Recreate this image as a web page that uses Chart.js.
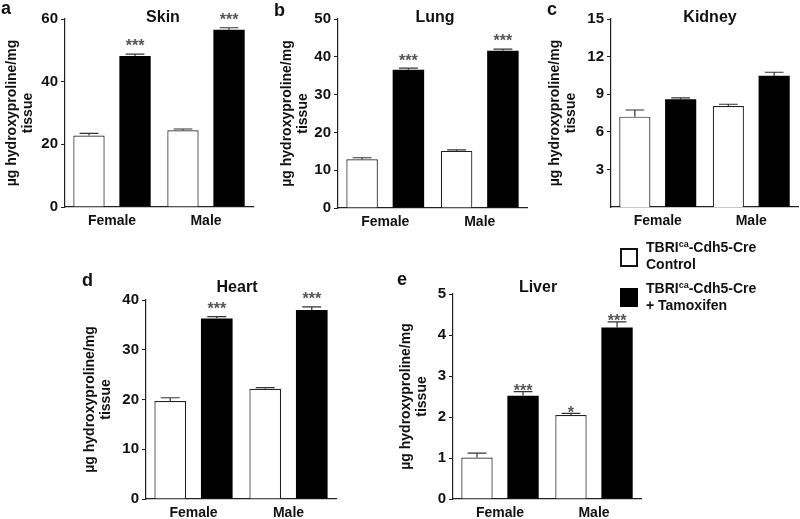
<!DOCTYPE html>
<html>
<head>
<meta charset="utf-8">
<script src="https://cdn.jsdelivr.net/npm/chart.js@4.4.1/dist/chart.umd.min.js"></script>
<style>
  body { margin: 0; background: #fff; font-family: "Liberation Sans", Arial, sans-serif; }
  #page { position: relative; width: 800px; height: 519px; overflow: hidden; background: #fff; }
  canvas { position: absolute; }
  .letter { position: absolute; font-weight: bold; font-size: 18px; line-height: 18px; color: #111; }
  .legend-box { position: absolute; width: 18px; height: 19px; box-sizing: border-box; border: 2px solid #111; }
  .legend-text { position: absolute; font-weight: bold; font-size: 14px; line-height: 17px; color: #111; white-space: nowrap; }
  .legend-text sup { font-size: 9px; line-height: 0; vertical-align: 5px; }
</style>
</head>
<body>
<div id="page">
  <canvas id="skin-chart"></canvas>
  <canvas id="lung-chart"></canvas>
  <canvas id="kidney-chart"></canvas>
  <canvas id="heart-chart"></canvas>
  <canvas id="liver-chart"></canvas>

  <div class="letter" style="left:1px; top:-1px;">a</div>
  <div class="letter" style="left:274px; top:1px;">b</div>
  <div class="letter" style="left:547px; top:0px;">c</div>
  <div class="letter" style="left:82px; top:271px;">d</div>
  <div class="letter" style="left:397px; top:270px;">e</div>

  <!-- legend -->
  <div class="legend-box" style="left:620px; top:248px; background:#fff;"></div>
  <div class="legend-text" style="left:646px; top:239px;">TBRI<sup>ca</sup>-Cdh5-Cre<br>Control</div>
  <div class="legend-box" style="left:620px; top:288px; background:#000; border-color:#000;"></div>
  <div class="legend-text" style="left:646px; top:280px;">TBRI<sup>ca</sup>-Cdh5-Cre<br>+ Tamoxifen</div>
</div>
<script>
//Shared labels
const groups = ['Female', 'Male'];
const controlLabel = 'TBRIca-Cdh5-Cre Control';
const tamoxLabel = 'TBRIca-Cdh5-Cre + Tamoxifen';
const yTitle = ['µg hydroxyproline/mg', 'tissue'];
const fontFamily = '"Liberation Sans", Arial, sans-serif';

//Skin
const skinTicks = [0, 20, 40, 60];
const skinControl = [22.8, 24.5];
const skinControlErr = [0.7, 0.4];
const skinTamox = [48.2, 56.6];
const skinTamoxErr = [0.6, 0.6];
const skinControlStars = ['', ''];
const skinTamoxStars = ['***', '***'];

//Lung
const lungTicks = [0, 10, 20, 30, 40, 50];
const lungControl = [12.9, 15.1];
const lungControlErr = [0.4, 0.3];
const lungTamox = [36.6, 41.6];
const lungTamoxErr = [0.4, 0.45];
const lungControlStars = ['', ''];
const lungTamoxStars = ['***', '***'];

//Kidney (no 0 label on this axis)
const kidneyTicks = [3, 6, 9, 12, 15];
const kidneyControl = [7.21, 8.06];
const kidneyControlErr = [0.53, 0.14];
const kidneyTamox = [8.59, 10.48];
const kidneyTamoxErr = [0.12, 0.27];
const kidneyControlStars = ['', ''];
const kidneyTamoxStars = ['', ''];

//Heart
const heartTicks = [0, 10, 20, 30, 40];
const heartControl = [19.7, 22.15];
const heartControlErr = [0.65, 0.25];
const heartTamox = [36.3, 38.0];
const heartTamoxErr = [0.35, 0.6];
const heartControlStars = ['', ''];
const heartTamoxStars = ['***', '***'];

//Liver
const liverTicks = [0, 1, 2, 3, 4, 5];
const liverControl = [1.01, 2.05];
const liverControlErr = [0.11, 0.04];
const liverTamox = [2.52, 4.18];
const liverTamoxErr = [0.1, 0.14];
const liverControlStars = ['', '*'];
const liverTamoxStars = ['***', '***'];

//Where each panel sits on the page
const panels = [
  {id: 'skin-chart', title: 'Skin', ax: 65, ty: 19, by: 207, rx: 253, yw: 61, titleX: 163, titleBase: 22, starGap: 11,
   ticks: skinTicks, control: skinControl, controlErr: skinControlErr, tamox: skinTamox, tamoxErr: skinTamoxErr,
   controlStars: skinControlStars, tamoxStars: skinTamoxStars},
  {id: 'lung-chart', title: 'Lung', ax: 338, ty: 19, by: 208, rx: 527, yw: 59, titleX: 435, titleBase: 22, starGap: 11,
   ticks: lungTicks, control: lungControl, controlErr: lungControlErr, tamox: lungTamox, tamoxErr: lungTamoxErr,
   controlStars: lungControlStars, tamoxStars: lungTamoxStars},
  {id: 'kidney-chart', title: 'Kidney', ax: 611, ty: 19, by: 207, rx: 798, yw: 64, titleX: 710, titleBase: 22, starGap: 11,
   ticks: kidneyTicks, control: kidneyControl, controlErr: kidneyControlErr, tamox: kidneyTamox, tamoxErr: kidneyTamoxErr,
   controlStars: kidneyControlStars, tamoxStars: kidneyTamoxStars},
  {id: 'heart-chart', title: 'Heart', ax: 146, ty: 300, by: 499, rx: 336, yw: 64, titleX: 237, titleBase: 292, starGap: 11,
   ticks: heartTicks, control: heartControl, controlErr: heartControlErr, tamox: heartTamox, tamoxErr: heartTamoxErr,
   controlStars: heartControlStars, tamoxStars: heartTamoxStars},
  {id: 'liver-chart', title: 'Liver', ax: 453, ty: 294, by: 499, rx: 641, yw: 55, titleX: 538, titleBase: 292, starGap: 4,
   ticks: liverTicks, control: liverControl, controlErr: liverControlErr, tamox: liverTamox, tamoxErr: liverTamoxErr,
   controlStars: liverControlStars, tamoxStars: liverTamoxStars}
];

//Draws error bars, significance stars and the panel title
const panelExtras = {
  id: 'panelExtras',
  afterDatasetsDraw(chart, args, opts) {
    const ctx = chart.ctx;
    const yScale = chart.scales.y;
    ctx.save();
    chart.data.datasets.forEach((ds, i) => {
      chart.getDatasetMeta(i).data.forEach((bar, j) => {
        const top = yScale.getPixelForValue(ds.data[j] + ds.errors[j]);
        const cap = bar.width * 0.3;
        ctx.strokeStyle = '#333';
        ctx.lineWidth = 1.2;
        ctx.beginPath();
        ctx.moveTo(bar.x, bar.y);
        ctx.lineTo(bar.x, top);
        ctx.moveTo(bar.x - cap, top);
        ctx.lineTo(bar.x + cap, top);
        ctx.stroke();
        if (ds.stars[j]) {
          ctx.fillStyle = '#555';
          ctx.font = 'bold 16px ' + fontFamily;
          ctx.textAlign = 'center';
          ctx.textBaseline = 'middle';
          ctx.fillText(ds.stars[j], bar.x, top - opts.starGap + 4);
        }
      });
    });
    ctx.fillStyle = '#111';
    ctx.font = 'bold 16px ' + fontFamily;
    ctx.textAlign = 'center';
    ctx.textBaseline = 'alphabetic';
    ctx.fillText(opts.title, opts.titleX, opts.titleY);
    ctx.restore();
  }
};

function makePanel(p) {
  const canvas = document.getElementById(p.id);
  const padTop = 28;
  const xh = 30;
  const left = p.ax - p.yw;
  const top = p.ty - padTop;
  canvas.width = p.rx - p.ax + p.yw + 2;
  canvas.height = padTop + (p.by - p.ty) + xh;
  canvas.style.left = left + 'px';
  canvas.style.top = top + 'px';

  return new Chart(canvas, {
    type: 'bar',
    data: {
      labels: groups,
      datasets: [{
        label: controlLabel,
        data: p.control,
        errors: p.controlErr,
        stars: p.controlStars,
        backgroundColor: '#fff',
        borderColor: '#222',
        borderWidth: 1.2,
        categoryPercentage: 0.98,
        barPercentage: 0.68
      }, {
        label: tamoxLabel,
        data: p.tamox,
        errors: p.tamoxErr,
        stars: p.tamoxStars,
        backgroundColor: '#000',
        borderWidth: 0,
        categoryPercentage: 0.98,
        barPercentage: 0.68
      }]
    },
    options: {
      responsive: false,
      animation: false,
      layout: { padding: { top: padTop, right: 2, bottom: 0, left: 0 } },
      plugins: {
        legend: { display: false },
        tooltip: { enabled: false },
        panelExtras: {
          title: p.title,
          titleX: p.titleX - left,
          titleY: p.titleBase - top,
          starGap: p.starGap
        }
      },
      scales: {
        x: {
          grid: { display: false, drawTicks: false },
          border: { display: true, color: '#222', width: 1.2 },
          ticks: { color: '#111', padding: 6, font: { family: fontFamily, size: 14, weight: 'bold' } },
          afterFit: s => { s.height = xh; }
        },
        y: {
          min: 0,
          max: p.ticks[p.ticks.length - 1],
          afterBuildTicks: s => { s.ticks = p.ticks.map(v => ({ value: v })); },
          grid: { drawOnChartArea: false, drawTicks: true, tickLength: 4, color: '#222' },
          border: { display: true, color: '#222', width: 1.2 },
          ticks: { color: '#111', padding: 3, font: { family: fontFamily, size: 15, weight: 'bold' } },
          title: {
            display: true,
            text: yTitle,
            color: '#111',
            padding: 0,
            font: { family: fontFamily, size: 14, weight: 'bold', lineHeight: 16 / 14 }
          },
          afterFit: s => { s.width = p.yw; }
        }
      }
    },
    plugins: [panelExtras]
  });
}

panels.forEach(makePanel);
</script>
</body>
</html>
